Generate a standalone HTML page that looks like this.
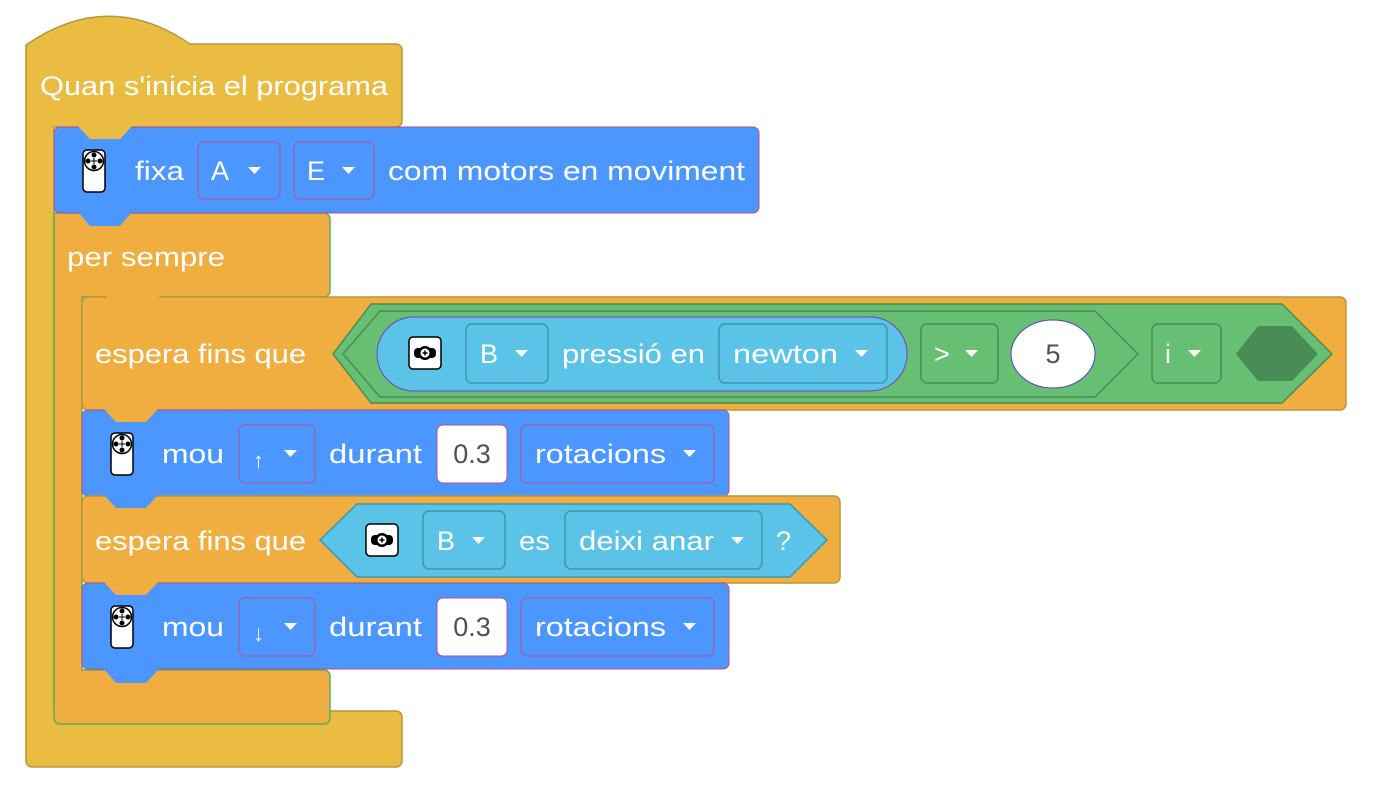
<!DOCTYPE html>
<html><head><meta charset="utf-8"><style>
html,body{margin:0;padding:0;background:#fff;width:1380px;height:796px;overflow:hidden}
svg text{font-family:"Liberation Sans",sans-serif;font-size:27px;fill:#fff}
</style></head><body>
<svg width="1380" height="796" viewBox="0 0 1380 796" xmlns="http://www.w3.org/2000/svg">
<defs>
<g id="remote">
<rect x="0" y="0" width="22" height="42" rx="4" fill="#fff" stroke="#000" stroke-width="1.5"/>
<circle cx="11" cy="11" r="9.5" fill="#fff" stroke="#000" stroke-width="1.5"/>
<circle cx="11" cy="5" r="2.5" fill="#000"/><circle cx="11" cy="17" r="2.5" fill="#000"/>
<circle cx="5" cy="11" r="2.5" fill="#000"/><circle cx="17" cy="11" r="2.5" fill="#000"/>
<path d="M8 11h6M11 8v6" stroke="#000" stroke-width="1"/>
</g>
<g id="sensor">
<rect x="0" y="0" width="32" height="32" rx="4" fill="#fff" stroke="#000" stroke-width="1.5"/>
<rect x="5" y="11" width="22" height="10" rx="4" fill="#000"/>
<circle cx="16" cy="16" r="7" fill="#000"/>
<circle cx="16" cy="16" r="4.5" fill="#fff"/>
<path d="M13.5 16h5M16 13.5v5" stroke="#000" stroke-width="1.5"/>
</g>
<path id="tri" d="M0 0h13l-6.5 7z" fill="#fff"/>
</defs>

<!-- Hat block -->
<path d="M26 45 Q108 -12 190 44 H396 a6 6 0 0 1 6 6 V121 a6 6 0 0 1 -6 6 H54 V711 H396 a6 6 0 0 1 6 6 V761 a6 6 0 0 1 -6 6 H32 a6 6 0 0 1 -6 -6 Z" fill="#EBBC42" stroke="#B8953A" stroke-width="1.5"/>
<text x="40" y="95" textLength="348" lengthAdjust="spacingAndGlyphs">Quan s'inicia el programa</text>

<!-- per sempre C -->
<path d="M54 213 H324 a6 6 0 0 1 6 6 V291 a6 6 0 0 1 -6 6 H82 V670 H324 a6 6 0 0 1 6 6 V718 a6 6 0 0 1 -6 6 H60 a6 6 0 0 1 -6 -6 Z" fill="#F1AE40" stroke="#5BAE5A" stroke-width="1.5"/>
<text x="67" y="266" textLength="158" lengthAdjust="spacingAndGlyphs">per sempre</text>

<!-- fixa block -->
<rect x="54" y="127" width="705" height="86" rx="6" fill="#4C97FF" stroke="#B44F8E" stroke-width="1"/>
<path d="M78 126 L90 139 H120 L132 126 Z" fill="#EBBC42"/>
<use href="#remote" x="83" y="150"/>
<text x="135" y="180" textLength="49" lengthAdjust="spacingAndGlyphs">fixa</text>
<rect x="198" y="142" width="82" height="57" rx="6" fill="none" stroke="#B44F8E" stroke-width="1"/>
<text x="211" y="180">A</text><use href="#tri" x="248" y="167"/>
<rect x="294" y="142" width="80" height="57" rx="6" fill="none" stroke="#B44F8E" stroke-width="1"/>
<text x="307" y="180">E</text><use href="#tri" x="342" y="167"/>
<text x="388" y="180" textLength="357" lengthAdjust="spacingAndGlyphs">com motors en moviment</text>

<!-- espera 1 -->
<rect x="82" y="297" width="1264" height="113" rx="6" fill="#F1AE40" stroke="#B8953A" stroke-width="1.5"/>
<text x="95" y="363" textLength="211" lengthAdjust="spacingAndGlyphs">espera fins que</text>
<polygon points="333,354 371,304 1282,304 1332,354 1282,403 371,403" fill="#66BF72" stroke="#4C8C55" stroke-width="1.5"/>
<polygon points="343,354 380,311 1095,311 1138,354 1095,397 380,397" fill="#66BF72" stroke="#4C8C55" stroke-width="1.5"/>
<rect x="377" y="317" width="530" height="74" rx="37" fill="#5BC2E8" stroke="#7C3CC0" stroke-width="1"/>
<use href="#sensor" x="409" y="337"/>
<rect x="466" y="324" width="82" height="59" rx="6" fill="none" stroke="#3E96AE" stroke-width="1.5"/>
<text x="480" y="363">B</text><use href="#tri" x="515" y="350"/>
<text x="562" y="363" textLength="143" lengthAdjust="spacingAndGlyphs">pressió en</text>
<rect x="719" y="324" width="168" height="59" rx="6" fill="none" stroke="#3E96AE" stroke-width="1.5"/>
<text x="733" y="363" textLength="105" lengthAdjust="spacingAndGlyphs">newton</text><use href="#tri" x="855" y="350"/>
<rect x="921" y="324" width="77" height="59" rx="6" fill="none" stroke="#4C8C55" stroke-width="1.5"/>
<text x="934" y="363">&gt;</text><use href="#tri" x="965" y="350"/>
<ellipse cx="1053" cy="354" rx="42" ry="34" fill="#fff" stroke="#5040C0" stroke-width="1"/>
<text x="1053" y="363" text-anchor="middle" style="fill:#4A5060">5</text>
<rect x="1152" y="324" width="69" height="59" rx="6" fill="none" stroke="#4C8C55" stroke-width="1.5"/>
<text x="1165" y="363">i</text><use href="#tri" x="1188" y="350"/>
<polygon points="1236,354 1258,326 1292,326 1318,354 1292,381 1258,381" fill="#4A8C56"/>
<path d="M106 296 L118 309 H148 L160 296 Z" fill="#F1AE40"/>

<!-- mou 1 -->
<rect x="82" y="410" width="647" height="86" rx="6" fill="#4C97FF" stroke="#B44F8E" stroke-width="1"/>
<path d="M104 409 L116 422 H146 L158 409 Z" fill="#F1AE40"/>
<use href="#remote" x="111" y="433"/>
<text x="162" y="463" textLength="62" lengthAdjust="spacingAndGlyphs">mou</text>
<rect x="239" y="425" width="76" height="58" rx="6" fill="none" stroke="#B44F8E" stroke-width="1"/>
<text x="253" y="468" style="font-size:22px">↑</text><use href="#tri" x="284" y="450"/>
<text x="329" y="463" textLength="93" lengthAdjust="spacingAndGlyphs">durant</text>
<rect x="437" y="425" width="70" height="58" rx="6" fill="#fff" stroke="#B44F8E" stroke-width="1"/>
<text x="472" y="463" text-anchor="middle" style="fill:#4A5060">0.3</text>
<rect x="521" y="425" width="193" height="58" rx="6" fill="none" stroke="#B44F8E" stroke-width="1"/>
<text x="535" y="463" textLength="131" lengthAdjust="spacingAndGlyphs">rotacions</text><use href="#tri" x="683" y="450"/>

<!-- espera 2 -->
<rect x="82" y="496" width="758" height="87" rx="6" fill="#F1AE40" stroke="#B8953A" stroke-width="1.5"/>
<path d="M104 495 L116 508 H146 L158 495 Z" fill="#4C97FF"/>
<text x="95" y="550" textLength="211" lengthAdjust="spacingAndGlyphs">espera fins que</text>
<polygon points="320,540 357,504 790,504 827,540 790,577 357,577" fill="#5BC2E8" stroke="#3E96AE" stroke-width="1.5"/>
<use href="#sensor" x="366" y="524"/>
<rect x="423" y="511" width="82" height="58" rx="6" fill="none" stroke="#3E96AE" stroke-width="1.5"/>
<text x="437" y="550">B</text><use href="#tri" x="472" y="537"/>
<text x="519" y="550" textLength="31" lengthAdjust="spacingAndGlyphs">es</text>
<rect x="565" y="511" width="197" height="58" rx="6" fill="none" stroke="#3E96AE" stroke-width="1.5"/>
<text x="579" y="550" textLength="135" lengthAdjust="spacingAndGlyphs">deixi anar</text><use href="#tri" x="731" y="537"/>
<text x="776" y="550">?</text>

<!-- mou 2 -->
<rect x="82" y="583" width="647" height="86" rx="6" fill="#4C97FF" stroke="#B44F8E" stroke-width="1"/>
<path d="M104 582 L116 595 H146 L158 582 Z" fill="#F1AE40"/>
<use href="#remote" x="111" y="606"/>
<text x="162" y="636" textLength="62" lengthAdjust="spacingAndGlyphs">mou</text>
<rect x="239" y="598" width="76" height="58" rx="6" fill="none" stroke="#B44F8E" stroke-width="1"/>
<text x="253" y="641" style="font-size:22px">↓</text><use href="#tri" x="284" y="623"/>
<text x="329" y="636" textLength="93" lengthAdjust="spacingAndGlyphs">durant</text>
<rect x="437" y="598" width="70" height="58" rx="6" fill="#fff" stroke="#B44F8E" stroke-width="1"/>
<text x="472" y="636" text-anchor="middle" style="fill:#4A5060">0.3</text>
<rect x="521" y="598" width="193" height="58" rx="6" fill="none" stroke="#B44F8E" stroke-width="1"/>
<text x="535" y="636" textLength="131" lengthAdjust="spacingAndGlyphs">rotacions</text><use href="#tri" x="683" y="623"/>
<path d="M103 668 L116 683 H146 L160 668 Z" fill="#4C97FF"/>

<path d="M78 212 L90 226 H120 L132 212 Z" fill="#4C97FF"/>
</svg>
</body></html>
